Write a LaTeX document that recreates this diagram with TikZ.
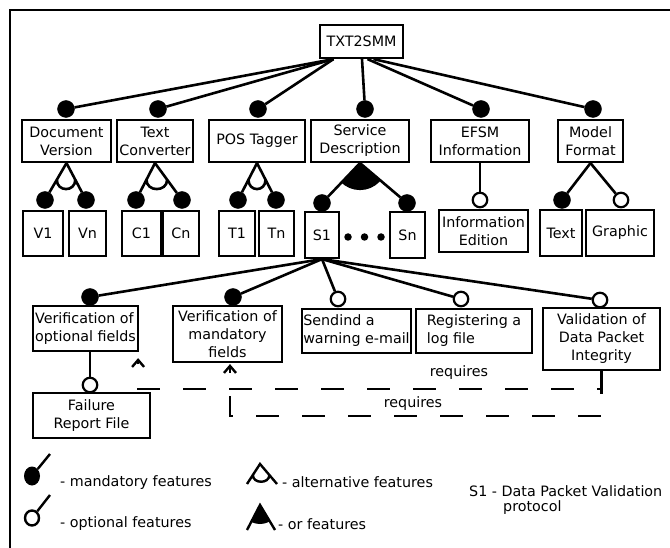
\documentclass[tikz,border=0pt]{standalone}
\usepackage{fontspec}
\setmainfont{DejaVu Sans}
\usetikzlibrary{calc,arrows.meta,shapes.geometric}

\newcommand{\altgroup}[3]{%
  \draw[conn] ($(#1)!0.45!(#2)$) .. controls +(0,12.5) and +(0,12.5) .. ($(#1)!0.45!(#3)$);}
\newcommand{\orgroup}[4]{%
  \begin{scope}
    \clip (#1) -- ($(#1)!3!(#2)$) -- ($(#1)!3!(#3)$) -- cycle;
    \fill (#1) circle[radius=#4];
  \end{scope}}

\begin{document}
\begin{tikzpicture}[x=1pt,y=-1pt,
  every node/.style={font=\fontsize{14.3pt}{18pt}\selectfont},
  box/.style={draw, line width=2.2pt, inner sep=1pt, align=center},
  conn/.style={line width=2.6pt},
  mand/.style={circle, fill=black, draw=black, line width=0.4pt, minimum size=17pt, inner sep=0pt},
  opt/.style={circle, fill=white, draw=black, line width=2.2pt, minimum size=14.5pt, inner sep=0pt},
  req/.style={line width=2.4pt, dash pattern=on 23pt off 23pt, -{Straight Barb[length=7pt,width=12pt]}},
  dotnode/.style={circle, fill=black, minimum size=7.5pt, inner sep=0pt},
  lbl/.style={inner sep=0pt, anchor=west}
]
\useasboundingbox (0,0) rectangle (670,548);
\fill[white] (0,0) rectangle (670,548);

% frame
\draw[line width=2.4pt] (10,560) -- (10,10) -- (680,10);

% root
\node[box, minimum width=83pt, minimum height=33pt] (txt) at (361.5,41.5) {TXT2SMM};

% first level features
\node[box, minimum width=89pt, minimum height=42pt] (docver)   at (66.5,141) {Document\\Version};
\node[box, minimum width=76pt, minimum height=42pt] (textconv) at (155,141)  {Text\\Converter};
\node[box, minimum width=96pt, minimum height=42pt] (pos)      at (257,141)  {POS Tagger};
\node[box, minimum width=98pt, minimum height=42pt] (servdesc) at (360,141)  {Service\\Description};
\node[box, minimum width=98pt, minimum height=42pt] (efsm)     at (480,141)  {EFSM\\Information};
\node[box, minimum width=65pt, minimum height=42pt] (modelfmt) at (590.5,141) {Model\\Format};

\node[mand] (m-docver)   at (66,109)  {};
\node[mand] (m-textconv) at (158,109) {};
\node[mand] (m-pos)      at (258,109) {};
\node[mand] (m-servdesc) at (365,109) {};
\node[mand] (m-efsm)     at (481,109) {};
\node[mand] (m-modelfmt) at (593,109) {};

\draw[conn] ($(txt.south)+(-28,0)$) -- (m-docver);
\draw[conn] ($(txt.south)+(-28,0)$) -- (m-textconv);
\draw[conn] ($(txt.south)+(-28,0)$) -- (m-pos);
\draw[conn] ($(txt.south)+(0.5,0)$) -- (m-servdesc);
\draw[conn] ($(txt.south)+(6,0)$) -- (m-efsm);
\draw[conn] ($(txt.south)+(12,0)$) -- (m-modelfmt);

% second level features
\node[box, minimum width=40pt, minimum height=45pt] (v1) at (43,233.5)   {V1};
\node[box, minimum width=37pt, minimum height=45pt] (vn) at (87.5,233.5) {Vn};
\node[box, minimum width=39pt, minimum height=45pt] (c1) at (141.5,233.5) {C1};
\node[box, minimum width=36pt, minimum height=45pt] (cn) at (181,233.5)  {Cn};
\node[box, minimum width=36pt, minimum height=45pt] (t1) at (237,233.5)  {T1};
\node[box, minimum width=35pt, minimum height=45pt] (tn) at (276.5,233.5) {Tn};
\node[box, minimum width=34pt, minimum height=46pt] (s1) at (322,235)    {S1};
\node[box, minimum width=35pt, minimum height=46pt] (sn) at (407.5,235)  {Sn};
\node[box, minimum width=89pt, minimum height=42pt] (infoed)  at (483.5,231) {Information\\Edition};
\node[box, minimum width=42pt, minimum height=46pt] (text)    at (561,233)   {Text};
\node[box, minimum width=68pt, minimum height=46pt] (graphic) at (620,233)   {Graphic};

\node[dotnode] (dot1) at (348,237) {};
\node[dotnode] (dot2) at (364.5,237) {};
\node[dotnode] (dot3) at (381,237) {};

\node[mand] (m-v1) at (45,200)  {};
\node[mand] (m-vn) at (86,200)  {};
\node[mand] (m-c1) at (136,200) {};
\node[mand] (m-cn) at (182,200) {};
\node[mand] (m-t1) at (238,200) {};
\node[mand] (m-tn) at (276,200) {};
\node[mand] (m-s1) at (322,203) {};
\node[mand] (m-sn) at (407,203) {};
\node[opt]  (o-infoed)  at (480,200) {};
\node[mand] (m-text)    at (562,200) {};
\node[opt]  (o-graphic) at (621,200) {};

\draw[conn] (docver.south) -- (m-v1);
\draw[conn] (docver.south) -- (m-vn);
\altgroup{docver.south}{m-v1.center}{m-vn.center}
\draw[conn] (textconv.south) -- (m-c1);
\draw[conn] (textconv.south) -- (m-cn);
\altgroup{textconv.south}{m-c1.center}{m-cn.center}
\draw[conn] (pos.south) -- (m-t1);
\draw[conn] (pos.south) -- (m-tn);
\altgroup{pos.south}{m-t1.center}{m-tn.center}
\draw[conn] (servdesc.south) -- (m-s1);
\draw[conn] (servdesc.south) -- (m-sn);
\orgroup{servdesc.south}{m-s1.center}{m-sn.center}{27pt}
\draw[conn] (efsm.south) -- (o-infoed);
\draw[conn] (modelfmt.south) -- (m-text);
\draw[conn] (modelfmt.south) -- (o-graphic);

% sub-features of S1
\node[box, minimum width=105pt, minimum height=45pt, align=left] (vopt) at (85.5,328.5) {Verification of\\optional fields};
\node[box, minimum width=109pt, minimum height=56pt] (vman) at (227.5,334) {Verification of\\mandatory\\fields};
\node[box, minimum width=109pt, minimum height=44pt, align=left] (send) at (356.5,331) {Sendind a\\warning e-mail};
\node[box, minimum width=116pt, minimum height=44pt, align=left] (reglog) at (474,331) {Registering a\\log file};
\node[box, minimum width=117pt, minimum height=62pt] (valid) at (601.5,339) {Validation of\\Data Packet\\Integrity};
\node[box, minimum width=117pt, minimum height=45pt] (failure) at (91.5,415.5) {Failure\\Report File};

\node[mand] (m-vopt)   at (90,297)  {};
\node[mand] (m-vman)   at (233,297) {};
\node[opt]  (o-send)   at (338,299) {};
\node[opt]  (o-reglog) at (461,299) {};
\node[opt]  (o-valid)  at (600,300) {};
\node[opt]  (o-failure) at (90,385) {};

\draw[conn] (s1.south) -- (m-vopt);
\draw[conn] (s1.south) -- (m-vman);
\draw[conn] (s1.south) -- (o-send);
\draw[conn] (s1.south) -- (o-reglog);
\draw[conn] (s1.south) -- (o-valid);
\draw[conn] (o-failure |- vopt.south) -- (o-failure);

% requires constraints
\coordinate (tipA) at ($(vopt.south east)+(-1,6)$);
\coordinate (tipB) at ($(vman.south)+(2.5,1)$);
\draw[req] (valid.south) -- ++(0,18) -| (tipA);
\draw[req] (valid.south) -- ++(0,45) -| (tipB);
\node[inner sep=0pt] (req1) at (459,373) {requires};
\node[inner sep=0pt] (req2) at (413,404) {requires};

% legend
\node[ellipse, fill=black, minimum width=16pt, minimum height=19pt, inner sep=0pt] (lg-mand) at (32,476) {};
\coordinate (lg-mand-end) at (50,454);
\draw[line width=2.4pt] (lg-mand) -- (lg-mand-end);
\node[ellipse, draw=black, line width=2.4pt, minimum width=14pt, minimum height=15pt, inner sep=0pt] (lg-opt) at (32,518) {};
\coordinate (lg-opt-end) at (50,495);
\draw[line width=2.4pt] (lg-opt) -- (lg-opt-end);
\node[lbl] (t-mand) at (60,483) {- mandatory features};
\node[lbl] (t-opt)  at (60,524) {- optional features};

\coordinate (alt-apex) at (260,464);
\coordinate (alt-l) at (247,484);
\coordinate (alt-r) at (277,484);
\draw[line width=2.4pt] (alt-l) -- (alt-apex) -- (alt-r);
\draw[line width=2.4pt] ($(alt-apex)!0.55!(alt-l)$) .. controls +(0,9) and +(0,9) .. ($(alt-apex)!0.55!(alt-r)$);
\node[lbl] (t-alt) at (282,482) {- alternative features};

\coordinate (or-apex) at (260,505);
\coordinate (or-l) at (247,530);
\coordinate (or-r) at (275,530);
\draw[line width=2.4pt] (or-l) -- (or-apex) -- (or-r);
\orgroup{or-apex}{or-l}{or-r}{19pt}
\node[lbl] (t-or) at (278,524) {- or features};

\node[lbl] (t-s1) at (469,491) {S1 - Data Packet Validation};
\node[lbl] (t-proto) at (503,508) {protocol};
\end{tikzpicture}
\end{document}
